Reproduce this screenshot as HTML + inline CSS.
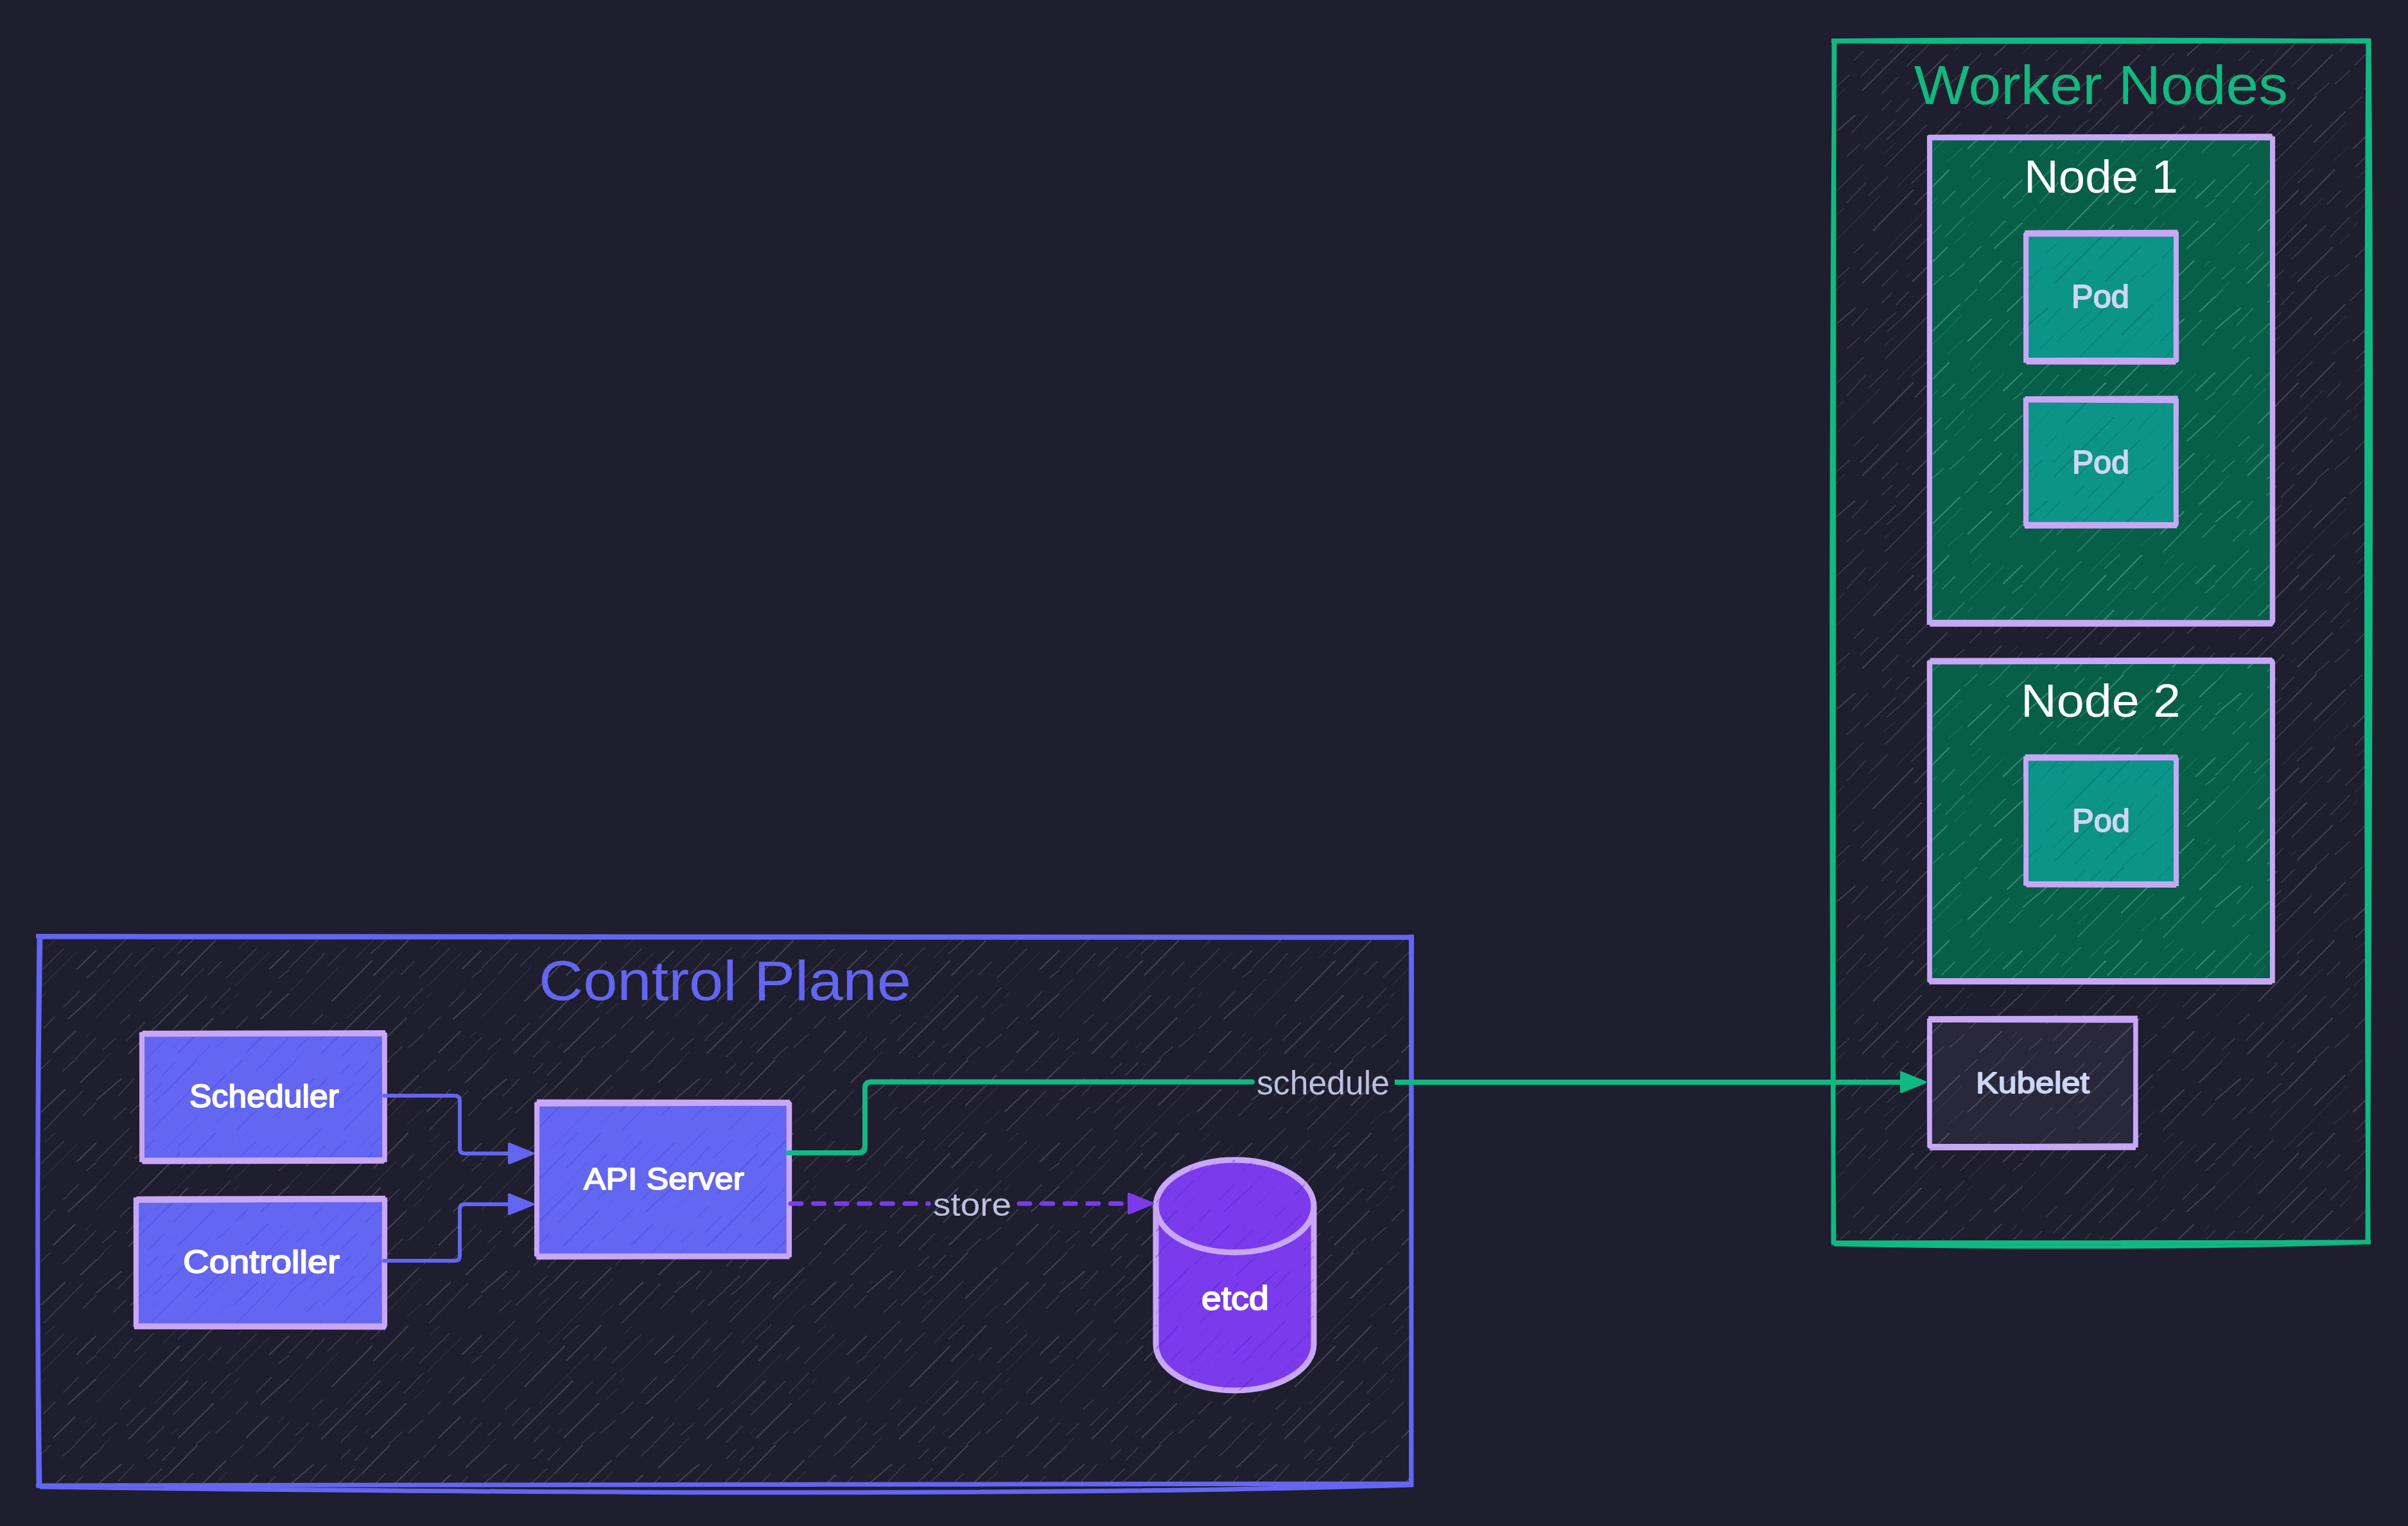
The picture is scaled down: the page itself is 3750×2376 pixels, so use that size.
<!DOCTYPE html>
<html>
<head>
<meta charset="utf-8">
<style>
html,body{margin:0;padding:0;background:#1E1E2E;}
body{width:3750px;height:2376px;overflow:hidden;}
svg{display:block;}
text{font-family:"Liberation Sans",sans-serif;}
</style>
</head>
<body>
<svg width="3750" height="2376" viewBox="0 0 3750 2376">
<rect x="0" y="0" width="3750" height="2376" fill="#1E1E2E"/>
<defs>
<pattern id="hl" x="150" y="150" width="300" height="300" patternUnits="userSpaceOnUse"><path d="M0.0,62.9L39.3,29.5M300.0,62.9L339.3,29.5M114.0,44.2L157.3,0.0M114.0,344.2L157.3,300.0M153.3,71.8L202.5,23.6M275.2,35.4L300.0,11.8M214.3,81.6L251.6,46.2M131.7,169.1L185.8,114.0M66.8,209.4L129.7,145.5M269.3,159.2L300.0,129.7M255.6,236.9L300.0,196.6M50.1,290.9L142.5,199.5M127.8,289.0L182.8,234.9M232.9,289.0L267.3,255.6" stroke="#FFFFFF" stroke-opacity="0.169" stroke-width="1.9" fill="none"/><path d="M33.4,57.0L59.0,29.5M0.0,12.8L11.8,0.0M0.0,312.8L11.8,300.0M300.0,12.8L311.8,0.0M300.0,312.8L311.8,300.0M80.6,21.6L96.3,5.9M102.2,24.6L122.9,3.9M53.1,82.6L102.2,36.4M88.5,66.8L114.0,44.2M26.5,93.4L47.2,73.7M85.5,109.1L150.4,44.2M209.4,18.7L229.0,0.0M209.4,318.7L229.0,300.0M247.7,17.7L267.3,0.0M247.7,317.7L267.3,300.0M218.2,110.1L279.1,48.2M279.1,87.5L300.0,66.8M0.0,157.3L52.1,106.2M300.0,157.3L352.1,106.2M26.5,166.1L56.0,133.7M60.0,154.3L90.4,124.8M126.8,135.6L151.4,113.0M174.0,168.1L194.6,147.4M202.5,173.0L249.7,126.8M284.1,173.0L300.0,160.2M178.9,219.2L209.4,187.7M248.7,218.2L273.2,193.6M118.9,253.6L173.0,200.5M36.4,244.7L53.1,229.0M47.2,270.3L75.7,241.8M9.8,285.0L30.5,266.4M80.6,295.9L106.2,270.3M185.8,281.1L209.4,260.5M217.2,251.6L235.9,232.9M267.3,298.8L300.0,265.4M155.3,298.8L176.9,279.1" stroke="#FFFFFF" stroke-opacity="0.135" stroke-width="1.5" fill="none"/><path d="M3.9,49.1L9.8,44.2M84.5,88.5L102.2,72.7M104.2,141.5L204.4,41.3M183.8,100.3L207.4,79.6M0.0,194.6L21.6,174.0M300.0,194.6L321.6,174.0M0.0,233.9L77.6,155.3M300.0,233.9L377.6,155.3M90.0,235.9L167.1,158.0M216.2,184.8L270.3,131.7M220.2,127.8L235.9,114.0M193.6,229.0L211.3,212.3M214.3,203.5L222.1,195.6M117.9,282.1L126.8,274.2M283.1,265.4L291.9,256.5M11.8,298.8L23.6,288.0" stroke="#FFFFFF" stroke-opacity="0.081" stroke-width="1.1" fill="none"/></pattern>
<pattern id="hg" x="150" y="150" width="300" height="300" patternUnits="userSpaceOnUse"><path d="M0.0,62.9L39.3,29.5M300.0,62.9L339.3,29.5M114.0,44.2L157.3,0.0M114.0,344.2L157.3,300.0M153.3,71.8L202.5,23.6M275.2,35.4L300.0,11.8M214.3,81.6L251.6,46.2M131.7,169.1L185.8,114.0M66.8,209.4L129.7,145.5M269.3,159.2L300.0,129.7M255.6,236.9L300.0,196.6M50.1,290.9L142.5,199.5M127.8,289.0L182.8,234.9M232.9,289.0L267.3,255.6" stroke="#8FD9BF" stroke-opacity="0.375" stroke-width="1.9" fill="none"/><path d="M33.4,57.0L59.0,29.5M0.0,12.8L11.8,0.0M0.0,312.8L11.8,300.0M300.0,12.8L311.8,0.0M300.0,312.8L311.8,300.0M80.6,21.6L96.3,5.9M102.2,24.6L122.9,3.9M53.1,82.6L102.2,36.4M88.5,66.8L114.0,44.2M26.5,93.4L47.2,73.7M85.5,109.1L150.4,44.2M209.4,18.7L229.0,0.0M209.4,318.7L229.0,300.0M247.7,17.7L267.3,0.0M247.7,317.7L267.3,300.0M218.2,110.1L279.1,48.2M279.1,87.5L300.0,66.8M0.0,157.3L52.1,106.2M300.0,157.3L352.1,106.2M26.5,166.1L56.0,133.7M60.0,154.3L90.4,124.8M126.8,135.6L151.4,113.0M174.0,168.1L194.6,147.4M202.5,173.0L249.7,126.8M284.1,173.0L300.0,160.2M178.9,219.2L209.4,187.7M248.7,218.2L273.2,193.6M118.9,253.6L173.0,200.5M36.4,244.7L53.1,229.0M47.2,270.3L75.7,241.8M9.8,285.0L30.5,266.4M80.6,295.9L106.2,270.3M185.8,281.1L209.4,260.5M217.2,251.6L235.9,232.9M267.3,298.8L300.0,265.4M155.3,298.8L176.9,279.1" stroke="#8FD9BF" stroke-opacity="0.300" stroke-width="1.5" fill="none"/><path d="M3.9,49.1L9.8,44.2M84.5,88.5L102.2,72.7M104.2,141.5L204.4,41.3M183.8,100.3L207.4,79.6M0.0,194.6L21.6,174.0M300.0,194.6L321.6,174.0M0.0,233.9L77.6,155.3M300.0,233.9L377.6,155.3M90.0,235.9L167.1,158.0M216.2,184.8L270.3,131.7M220.2,127.8L235.9,114.0M193.6,229.0L211.3,212.3M214.3,203.5L222.1,195.6M117.9,282.1L126.8,274.2M283.1,265.4L291.9,256.5M11.8,298.8L23.6,288.0" stroke="#8FD9BF" stroke-opacity="0.180" stroke-width="1.1" fill="none"/></pattern>
<pattern id="hb" x="150" y="150" width="300" height="300" patternUnits="userSpaceOnUse"><path d="M0.0,62.9L39.3,29.5M300.0,62.9L339.3,29.5M114.0,44.2L157.3,0.0M114.0,344.2L157.3,300.0M153.3,71.8L202.5,23.6M275.2,35.4L300.0,11.8M214.3,81.6L251.6,46.2M131.7,169.1L185.8,114.0M66.8,209.4L129.7,145.5M269.3,159.2L300.0,129.7M255.6,236.9L300.0,196.6M50.1,290.9L142.5,199.5M127.8,289.0L182.8,234.9M232.9,289.0L267.3,255.6" stroke="#3030E8" stroke-opacity="0.325" stroke-width="1.9" fill="none"/><path d="M33.4,57.0L59.0,29.5M0.0,12.8L11.8,0.0M0.0,312.8L11.8,300.0M300.0,12.8L311.8,0.0M300.0,312.8L311.8,300.0M80.6,21.6L96.3,5.9M102.2,24.6L122.9,3.9M53.1,82.6L102.2,36.4M88.5,66.8L114.0,44.2M26.5,93.4L47.2,73.7M85.5,109.1L150.4,44.2M209.4,18.7L229.0,0.0M209.4,318.7L229.0,300.0M247.7,17.7L267.3,0.0M247.7,317.7L267.3,300.0M218.2,110.1L279.1,48.2M279.1,87.5L300.0,66.8M0.0,157.3L52.1,106.2M300.0,157.3L352.1,106.2M26.5,166.1L56.0,133.7M60.0,154.3L90.4,124.8M126.8,135.6L151.4,113.0M174.0,168.1L194.6,147.4M202.5,173.0L249.7,126.8M284.1,173.0L300.0,160.2M178.9,219.2L209.4,187.7M248.7,218.2L273.2,193.6M118.9,253.6L173.0,200.5M36.4,244.7L53.1,229.0M47.2,270.3L75.7,241.8M9.8,285.0L30.5,266.4M80.6,295.9L106.2,270.3M185.8,281.1L209.4,260.5M217.2,251.6L235.9,232.9M267.3,298.8L300.0,265.4M155.3,298.8L176.9,279.1" stroke="#3030E8" stroke-opacity="0.260" stroke-width="1.5" fill="none"/><path d="M3.9,49.1L9.8,44.2M84.5,88.5L102.2,72.7M104.2,141.5L204.4,41.3M183.8,100.3L207.4,79.6M0.0,194.6L21.6,174.0M300.0,194.6L321.6,174.0M0.0,233.9L77.6,155.3M300.0,233.9L377.6,155.3M90.0,235.9L167.1,158.0M216.2,184.8L270.3,131.7M220.2,127.8L235.9,114.0M193.6,229.0L211.3,212.3M214.3,203.5L222.1,195.6M117.9,282.1L126.8,274.2M283.1,265.4L291.9,256.5M11.8,298.8L23.6,288.0" stroke="#3030E8" stroke-opacity="0.156" stroke-width="1.1" fill="none"/></pattern>
<pattern id="ht" x="150" y="150" width="300" height="300" patternUnits="userSpaceOnUse"><path d="M0.0,62.9L39.3,29.5M300.0,62.9L339.3,29.5M114.0,44.2L157.3,0.0M114.0,344.2L157.3,300.0M153.3,71.8L202.5,23.6M275.2,35.4L300.0,11.8M214.3,81.6L251.6,46.2M131.7,169.1L185.8,114.0M66.8,209.4L129.7,145.5M269.3,159.2L300.0,129.7M255.6,236.9L300.0,196.6M50.1,290.9L142.5,199.5M127.8,289.0L182.8,234.9M232.9,289.0L267.3,255.6" stroke="#035E57" stroke-opacity="0.438" stroke-width="1.9" fill="none"/><path d="M33.4,57.0L59.0,29.5M0.0,12.8L11.8,0.0M0.0,312.8L11.8,300.0M300.0,12.8L311.8,0.0M300.0,312.8L311.8,300.0M80.6,21.6L96.3,5.9M102.2,24.6L122.9,3.9M53.1,82.6L102.2,36.4M88.5,66.8L114.0,44.2M26.5,93.4L47.2,73.7M85.5,109.1L150.4,44.2M209.4,18.7L229.0,0.0M209.4,318.7L229.0,300.0M247.7,17.7L267.3,0.0M247.7,317.7L267.3,300.0M218.2,110.1L279.1,48.2M279.1,87.5L300.0,66.8M0.0,157.3L52.1,106.2M300.0,157.3L352.1,106.2M26.5,166.1L56.0,133.7M60.0,154.3L90.4,124.8M126.8,135.6L151.4,113.0M174.0,168.1L194.6,147.4M202.5,173.0L249.7,126.8M284.1,173.0L300.0,160.2M178.9,219.2L209.4,187.7M248.7,218.2L273.2,193.6M118.9,253.6L173.0,200.5M36.4,244.7L53.1,229.0M47.2,270.3L75.7,241.8M9.8,285.0L30.5,266.4M80.6,295.9L106.2,270.3M185.8,281.1L209.4,260.5M217.2,251.6L235.9,232.9M267.3,298.8L300.0,265.4M155.3,298.8L176.9,279.1" stroke="#035E57" stroke-opacity="0.350" stroke-width="1.5" fill="none"/><path d="M3.9,49.1L9.8,44.2M84.5,88.5L102.2,72.7M104.2,141.5L204.4,41.3M183.8,100.3L207.4,79.6M0.0,194.6L21.6,174.0M300.0,194.6L321.6,174.0M0.0,233.9L77.6,155.3M300.0,233.9L377.6,155.3M90.0,235.9L167.1,158.0M216.2,184.8L270.3,131.7M220.2,127.8L235.9,114.0M193.6,229.0L211.3,212.3M214.3,203.5L222.1,195.6M117.9,282.1L126.8,274.2M283.1,265.4L291.9,256.5M11.8,298.8L23.6,288.0" stroke="#035E57" stroke-opacity="0.210" stroke-width="1.1" fill="none"/></pattern>
<pattern id="hv" x="150" y="150" width="300" height="300" patternUnits="userSpaceOnUse"><path d="M0.0,62.9L39.3,29.5M300.0,62.9L339.3,29.5M114.0,44.2L157.3,0.0M114.0,344.2L157.3,300.0M153.3,71.8L202.5,23.6M275.2,35.4L300.0,11.8M214.3,81.6L251.6,46.2M131.7,169.1L185.8,114.0M66.8,209.4L129.7,145.5M269.3,159.2L300.0,129.7M255.6,236.9L300.0,196.6M50.1,290.9L142.5,199.5M127.8,289.0L182.8,234.9M232.9,289.0L267.3,255.6" stroke="#3A1FD0" stroke-opacity="0.400" stroke-width="1.9" fill="none"/><path d="M33.4,57.0L59.0,29.5M0.0,12.8L11.8,0.0M0.0,312.8L11.8,300.0M300.0,12.8L311.8,0.0M300.0,312.8L311.8,300.0M80.6,21.6L96.3,5.9M102.2,24.6L122.9,3.9M53.1,82.6L102.2,36.4M88.5,66.8L114.0,44.2M26.5,93.4L47.2,73.7M85.5,109.1L150.4,44.2M209.4,18.7L229.0,0.0M209.4,318.7L229.0,300.0M247.7,17.7L267.3,0.0M247.7,317.7L267.3,300.0M218.2,110.1L279.1,48.2M279.1,87.5L300.0,66.8M0.0,157.3L52.1,106.2M300.0,157.3L352.1,106.2M26.5,166.1L56.0,133.7M60.0,154.3L90.4,124.8M126.8,135.6L151.4,113.0M174.0,168.1L194.6,147.4M202.5,173.0L249.7,126.8M284.1,173.0L300.0,160.2M178.9,219.2L209.4,187.7M248.7,218.2L273.2,193.6M118.9,253.6L173.0,200.5M36.4,244.7L53.1,229.0M47.2,270.3L75.7,241.8M9.8,285.0L30.5,266.4M80.6,295.9L106.2,270.3M185.8,281.1L209.4,260.5M217.2,251.6L235.9,232.9M267.3,298.8L300.0,265.4M155.3,298.8L176.9,279.1" stroke="#3A1FD0" stroke-opacity="0.320" stroke-width="1.5" fill="none"/><path d="M3.9,49.1L9.8,44.2M84.5,88.5L102.2,72.7M104.2,141.5L204.4,41.3M183.8,100.3L207.4,79.6M0.0,194.6L21.6,174.0M300.0,194.6L321.6,174.0M0.0,233.9L77.6,155.3M300.0,233.9L377.6,155.3M90.0,235.9L167.1,158.0M216.2,184.8L270.3,131.7M220.2,127.8L235.9,114.0M193.6,229.0L211.3,212.3M214.3,203.5L222.1,195.6M117.9,282.1L126.8,274.2M283.1,265.4L291.9,256.5M11.8,298.8L23.6,288.0" stroke="#3A1FD0" stroke-opacity="0.192" stroke-width="1.1" fill="none"/></pattern>
</defs>
<rect x="58.0" y="1455.0" width="2142" height="860" fill="#1E1E2E"/>
<rect x="64.0" y="1461.0" width="2130" height="848" fill="url(#hl)"/>
<path d="M56,1457.5 L2202,1459 M60,1459 Q1000,1462 2198,1460 M2197.5,1455 L2198,2315 M2198.5,1457 L2197.5,2313 M2201,2310 L56,2313 M2200,2312 Q1500,2334 62,2315 M62,2317 Q55,1900 63,1455 M60,2314 Q57,1850 61,1457" fill="none" stroke="#6366F1" stroke-width="7" stroke-linecap="butt"/>
<text x="839" y="1557" font-size="87" fill="#6366F1" textLength="580" lengthAdjust="spacingAndGlyphs">Control Plane</text>
<rect x="2854.0" y="61.0" width="836" height="1875" fill="#1E1E2E"/>
<rect x="2860.0" y="67.0" width="824" height="1863" fill="url(#hl)"/>
<path d="M2852,63.5 Q3270,60 3692,64.5 M2856,64 Q3300,66 3690,63 M3688,60 Q3683,800 3688,1935 M3689,60 Q3695,600 3687,1935 M3692,1934 L2852,1935 M3690,1934 Q3300,1946 2856,1937 M2856,1938 Q2849,1000 2857,60 M2855,1935 Q2852,900 2856,62" fill="none" stroke="#10B981" stroke-width="7" stroke-linecap="butt"/>
<text x="2981" y="162" font-size="86" fill="#10B981" textLength="582" lengthAdjust="spacingAndGlyphs">Worker Nodes</text>
<rect x="218.5" y="1606.5" width="383" height="203" fill="#6366F1"/>
<rect x="225.5" y="1613.5" width="369" height="189" fill="url(#hb)"/>
<path d="M220.7,1610.7 Q411.1,1610.0 598.6,1609.8 M221.8,1608.3 Q393.7,1607.3 600.0,1607.7 M599.3,1608.3 Q599.4,1726.7 599.3,1809.3 M598.3,1607.7 Q599.0,1699.2 598.8,1807.6 M598.6,1808.1 Q397.3,1808.7 221.5,1808.9 M600.6,1805.5 Q392.9,1805.4 220.5,1806.2 M221.4,1808.7 Q221.4,1700.5 221.5,1608.3 M220.7,1809.2 Q220.6,1723.2 220.5,1607.2 " fill="none" stroke="#C9A7F7" stroke-width="7.2" stroke-linecap="butt"/>
<text x="295" y="1724" font-size="50" stroke="#FFFFFF" stroke-width="1.90" stroke-linejoin="round" fill="#FFFFFF" textLength="233" lengthAdjust="spacingAndGlyphs">Scheduler</text>
<rect x="209.5" y="1864.5" width="392" height="203" fill="#6366F1"/>
<rect x="216.5" y="1871.5" width="378" height="189" fill="url(#hb)"/>
<path d="M210.1,1869.2 Q401.3,1868.9 599.2,1867.8 M212.4,1866.3 Q416.8,1865.9 600.0,1865.3 M599.6,1864.5 Q599.6,1963.1 599.5,2065.3 M598.6,1864.6 Q598.0,1974.3 598.5,2067.8 M600.6,2066.9 Q400.2,2066.8 209.0,2066.1 M598.1,2064.1 Q387.0,2064.5 211.2,2064.2 M212.4,2064.5 Q212.0,1963.7 212.6,1867.0 M211.4,2066.2 Q211.1,1961.9 211.4,1864.5 " fill="none" stroke="#C9A7F7" stroke-width="7.2" stroke-linecap="butt"/>
<text x="285" y="1982" font-size="50" stroke="#FFFFFF" stroke-width="1.90" stroke-linejoin="round" fill="#FFFFFF" textLength="244" lengthAdjust="spacingAndGlyphs">Controller</text>
<rect x="833.5" y="1714.5" width="398" height="244" fill="#6366F1"/>
<rect x="840.5" y="1721.5" width="384" height="230" fill="url(#hb)"/>
<path d="M835.6,1719.1 Q1020.6,1718.1 1231.5,1717.9 M836.1,1715.4 Q1013.2,1715.6 1229.9,1715.9 M1229.7,1716.5 Q1229.6,1841.6 1229.5,1957.3 M1228.3,1715.3 Q1228.8,1847.2 1228.4,1955.2 M1229.6,1956.8 Q1015.0,1956.5 835.4,1957.6 M1228.8,1954.8 Q1012.6,1954.5 836.4,1955.3 M836.2,1955.4 Q836.6,1821.9 836.6,1716.5 M835.6,1956.0 Q836.1,1856.0 835.7,1716.6 " fill="none" stroke="#C9A7F7" stroke-width="7.2" stroke-linecap="butt"/>
<text x="909" y="1852" font-size="48" stroke="#FFFFFF" stroke-width="1.82" stroke-linejoin="round" fill="#FFFFFF" textLength="250" lengthAdjust="spacingAndGlyphs">API Server</text>
<path d="M1800,1878 A123,72 0 0 1 2046,1878 L2046,2093 A123,72 0 0 1 1800,2093 Z" fill="#7C3AED" stroke="#C9A7F7" stroke-width="9"/>
<path d="M1800,1878 A123,72 0 0 1 2046,1878 L2046,2093 A123,72 0 0 1 1800,2093 Z" fill="url(#hv)"/>
<path d="M1800,1878 A123,72 0 0 0 2046,1878" fill="none" stroke="#C9A7F7" stroke-width="9"/>
<text x="1871" y="2039" font-size="52" stroke="#FFFFFF" stroke-width="1.98" stroke-linejoin="round" fill="#FFFFFF" textLength="105" lengthAdjust="spacingAndGlyphs">etcd</text>
<rect x="3002.5" y="211.5" width="539" height="761" fill="#065F46"/>
<rect x="3009.5" y="218.5" width="525" height="747" fill="url(#hg)"/>
<path d="M3004.1,214.8 Q3265.7,214.4 3539.9,214.8 M3002.7,213.3 Q3271.8,212.0 3538.6,211.9 M3539.5,212.8 Q3540.0,598.8 3539.7,969.1 M3538.7,214.0 Q3538.6,603.4 3538.4,970.5 M3539.3,971.9 Q3286.3,972.5 3005.1,972.2 M3541.3,969.0 Q3266.4,968.0 3003.0,968.5 M3005.3,969.1 Q3006.0,589.4 3005.5,213.9 M3004.3,972.7 Q3004.1,581.0 3004.6,211.0 " fill="none" stroke="#C9A7F7" stroke-width="7.2" stroke-linecap="butt"/>
<text x="3152" y="300" font-size="73" fill="#FFFFFF" textLength="240" lengthAdjust="spacingAndGlyphs">Node 1</text>
<rect x="3152.5" y="360.5" width="239" height="204" fill="#0D9488"/>
<rect x="3159.5" y="367.5" width="225" height="190" fill="url(#ht)"/>
<path d="M3155.2,364.6 Q3285.6,364.8 3388.8,365.0 M3153.4,362.2 Q3288.7,362.2 3391.2,361.3 M3389.3,361.0 Q3389.2,474.0 3389.6,562.9 M3388.6,360.1 Q3388.7,448.1 3388.3,562.6 M3388.5,564.1 Q3257.8,564.5 3155.4,563.9 M3391.9,560.8 Q3257.9,559.9 3153.4,560.5 M3155.5,564.9 Q3155.5,478.0 3155.7,361.4 M3154.7,564.3 Q3154.3,467.2 3154.6,363.2 " fill="none" stroke="#C9A7F7" stroke-width="7.2" stroke-linecap="butt"/>
<text x="3226" y="479" font-size="50" stroke="#CDD6F4" stroke-width="1.90" stroke-linejoin="round" fill="#CDD6F4" textLength="90" lengthAdjust="spacingAndGlyphs">Pod</text>
<rect x="3152.5" y="619.5" width="239" height="201" fill="#0D9488"/>
<rect x="3159.5" y="626.5" width="225" height="187" fill="url(#ht)"/>
<path d="M3155.0,622.9 Q3266.5,623.4 3389.7,624.1 M3153.7,620.7 Q3272.7,620.4 3391.6,619.9 M3389.4,620.9 Q3388.8,731.0 3389.3,817.1 M3388.4,622.3 Q3388.3,721.3 3388.5,818.9 M3390.2,818.8 Q3261.5,818.8 3152.9,819.5 M3391.1,816.5 Q3289.0,816.2 3154.0,816.2 M3155.5,819.5 Q3155.4,721.5 3155.5,621.0 M3154.4,818.9 Q3154.9,709.5 3154.4,619.2 " fill="none" stroke="#C9A7F7" stroke-width="7.2" stroke-linecap="butt"/>
<text x="3227" y="737" font-size="50" stroke="#CDD6F4" stroke-width="1.90" stroke-linejoin="round" fill="#CDD6F4" textLength="89" lengthAdjust="spacingAndGlyphs">Pod</text>
<rect x="3002.5" y="1026.5" width="539" height="504" fill="#065F46"/>
<rect x="3009.5" y="1033.5" width="525" height="490" fill="url(#hg)"/>
<path d="M3003.8,1031.0 Q3257.6,1030.3 3541.8,1029.9 M3005.7,1028.2 Q3283.7,1028.4 3539.0,1027.3 M3539.5,1029.4 Q3539.9,1298.3 3539.3,1529.9 M3538.6,1029.1 Q3539.2,1293.3 3538.6,1530.8 M3538.6,1529.5 Q3259.3,1529.0 3004.3,1529.2 M3540.9,1526.5 Q3254.1,1526.3 3005.9,1526.7 M3005.2,1529.5 Q3005.8,1297.6 3005.7,1028.0 M3004.8,1527.4 Q3004.3,1263.4 3004.4,1028.9 " fill="none" stroke="#C9A7F7" stroke-width="7.2" stroke-linecap="butt"/>
<text x="3147" y="1116" font-size="73" fill="#FFFFFF" textLength="249" lengthAdjust="spacingAndGlyphs">Node 2</text>
<rect x="3152.5" y="1176.5" width="239" height="203" fill="#0D9488"/>
<rect x="3159.5" y="1183.5" width="225" height="189" fill="url(#ht)"/>
<path d="M3154.3,1180.9 Q3259.0,1181.2 3391.6,1180.1 M3153.7,1178.2 Q3279.8,1178.1 3390.8,1178.3 M3389.5,1179.7 Q3389.1,1294.0 3389.6,1379.8 M3388.6,1179.7 Q3388.7,1296.7 3388.6,1379.5 M3389.1,1378.5 Q3256.7,1377.7 3155.5,1378.0 M3388.2,1375.9 Q3282.1,1375.5 3155.2,1375.9 M3155.4,1378.0 Q3155.0,1259.3 3155.2,1179.3 M3154.7,1378.9 Q3155.1,1262.6 3154.6,1177.8 " fill="none" stroke="#C9A7F7" stroke-width="7.2" stroke-linecap="butt"/>
<text x="3227" y="1295" font-size="50" stroke="#CDD6F4" stroke-width="1.90" stroke-linejoin="round" fill="#CDD6F4" textLength="90" lengthAdjust="spacingAndGlyphs">Pod</text>
<rect x="3002.5" y="1584.5" width="326" height="204" fill="#28283A"/>
<rect x="3009.5" y="1591.5" width="312" height="190" fill="url(#hl)"/>
<path d="M3002.7,1588.4 Q3160.4,1588.7 3326.7,1588.9 M3003.2,1585.8 Q3174.4,1585.7 3328.9,1585.1 M3326.2,1586.4 Q3325.7,1696.0 3326.3,1786.4 M3325.7,1587.0 Q3326.0,1693.1 3325.4,1785.7 M3326.1,1787.1 Q3151.9,1787.2 3005.0,1787.4 M3326.1,1783.8 Q3153.9,1784.9 3002.2,1784.5 M3005.2,1786.2 Q3005.3,1686.5 3005.4,1586.6 M3004.8,1785.8 Q3004.2,1681.9 3004.7,1586.0 " fill="none" stroke="#C9A7F7" stroke-width="7.2" stroke-linecap="butt"/>
<text x="3077" y="1702" font-size="47" stroke="#CDD6F4" stroke-width="1.79" stroke-linejoin="round" fill="#CDD6F4" textLength="177" lengthAdjust="spacingAndGlyphs">Kubelet</text>
<path d="M598,1706 H708 Q716,1706 716,1714 V1788 Q716,1796 724,1796 H800" fill="none" stroke="#6366F1" stroke-width="6" stroke-linecap="round"/>
<polygon points="830,1796 793,1781 793,1811" fill="#6366F1" stroke="#6366F1" stroke-width="4" stroke-linejoin="round"/>
<path d="M598,1963 H708 Q716,1963 716,1955 V1883 Q716,1875 724,1875 H800" fill="none" stroke="#6366F1" stroke-width="6" stroke-linecap="round"/>
<polygon points="830,1875 793,1860 793,1890" fill="#6366F1" stroke="#6366F1" stroke-width="4" stroke-linejoin="round"/>
<path d="M1228,1795 H1337 Q1347,1795 1347,1785 V1694 Q1347,1684.5 1357,1684.5 H1950" fill="none" stroke="#10B981" stroke-width="8" stroke-linecap="round"/>
<path d="M2172,1685 H2965" fill="none" stroke="#10B981" stroke-width="8"/>
<polygon points="2998,1685 2961,1670 2961,1700" fill="#10B981" stroke="#10B981" stroke-width="4" stroke-linejoin="round"/>
<path d="M1231,1874 H1446" fill="none" stroke="#7C3AED" stroke-width="7" stroke-linecap="round" stroke-dasharray="17 18.6"/>
<path d="M1587,1874 H1760" fill="none" stroke="#7C3AED" stroke-width="7" stroke-linecap="round" stroke-dasharray="17 18.6"/>
<polygon points="1795,1874 1758,1859 1758,1889" fill="#7C3AED" stroke="#7C3AED" stroke-width="4" stroke-linejoin="round"/>
<text x="1957" y="1704" font-size="51" fill="#BAC2DE" textLength="207" lengthAdjust="spacingAndGlyphs">schedule</text>
<text x="1453" y="1893" font-size="50" fill="#BAC2DE" textLength="122" lengthAdjust="spacingAndGlyphs">store</text>
</svg>
</body>
</html>
